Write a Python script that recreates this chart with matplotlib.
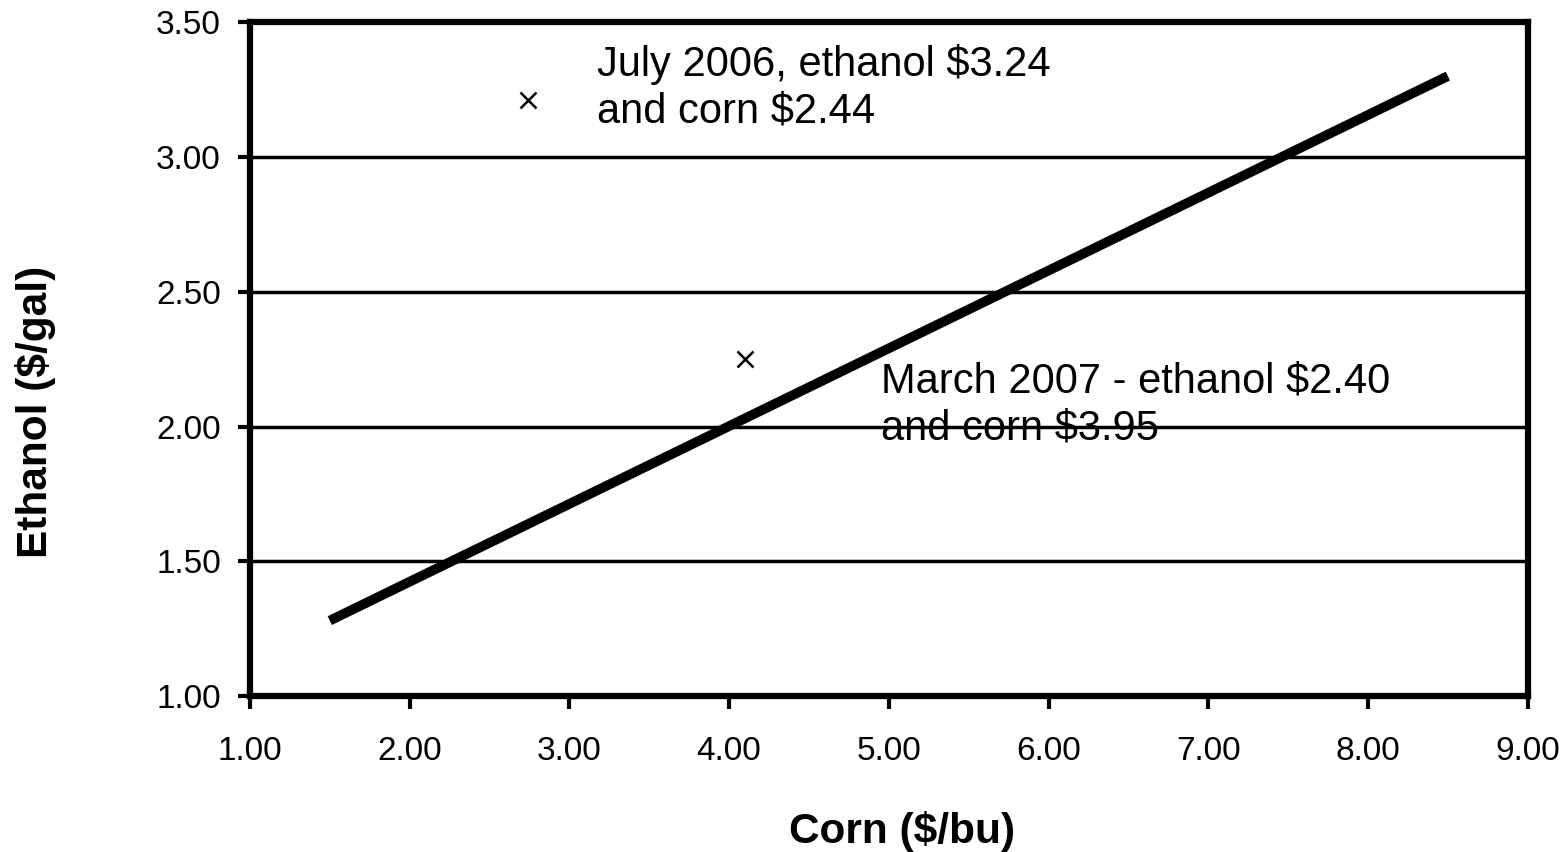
import matplotlib
matplotlib.use("Agg")
import matplotlib.pyplot as plt
from matplotlib import font_manager

# Data
line_corn = [1.5, 8.5]
line_ethanol = [1.28, 3.30]
point_corn = [2.74, 4.10]
point_ethanol = [3.21, 2.25]
annotations = ["July 2006, ethanol $3.24\nand corn $2.44",
               "March 2007 - ethanol $2.40\nand corn $3.95"]
annot_pos = [(3.17, 3.42), (4.95, 2.24)]
xticks = [1, 2, 3, 4, 5, 6, 7, 8, 9]
yticks = [1.0, 1.5, 2.0, 2.5, 3.0, 3.5]

names = {f.name for f in font_manager.fontManager.ttflist}
narrow = "Liberation Sans Narrow" if "Liberation Sans Narrow" in names else "Liberation Sans"
sans = "Liberation Sans" if "Liberation Sans" in names else "DejaVu Sans"

fig = plt.figure(figsize=(15.64, 8.52), dpi=100)
ax = fig.add_axes([0.1598, 0.183, 0.817, 0.791])

ax.set_xlim(1, 9)
ax.set_ylim(1, 3.5)
ax.set_xticks(xticks)
ax.set_yticks(yticks)
ax.set_xticklabels([f"{v:.2f}" for v in xticks], fontfamily=sans)
ax.set_yticklabels([f"{v:.2f}" for v in yticks], fontfamily=sans)
ax.tick_params(direction="out", length=9, width=3, labelsize=24)
ax.tick_params(axis="x", pad=20)
ax.tick_params(axis="y", pad=12)

for y in yticks[1:-1]:
    ax.axhline(y, color="black", linewidth=2.5, zorder=1)
for s in ax.spines.values():
    s.set_linewidth(4.5)

ax.plot(line_corn, line_ethanol, color="black", linewidth=7, solid_capstyle="butt", zorder=3)
ax.plot(point_corn, point_ethanol, linestyle="none", marker="x", color="black",
        markersize=11, markeredgewidth=1.8, zorder=4)

for txt, (x, y) in zip(annotations, annot_pos):
    ax.text(x, y, txt, fontfamily=narrow, fontsize=30, va="top", ha="left",
            linespacing=1.22, zorder=5)

fig.text(902 / 1564, 1 - 831 / 852, "Corn ($/bu)", fontfamily=sans, fontsize=30.5,
         fontweight="bold", ha="center", va="center")
fig.text(36 / 1564, 1 - 412 / 852, "Ethanol ($/gal)", fontfamily=sans, fontsize=30.5,
         fontweight="bold", ha="center", va="center", rotation=90)

fig.savefig("out.png", dpi=100, facecolor="white")
